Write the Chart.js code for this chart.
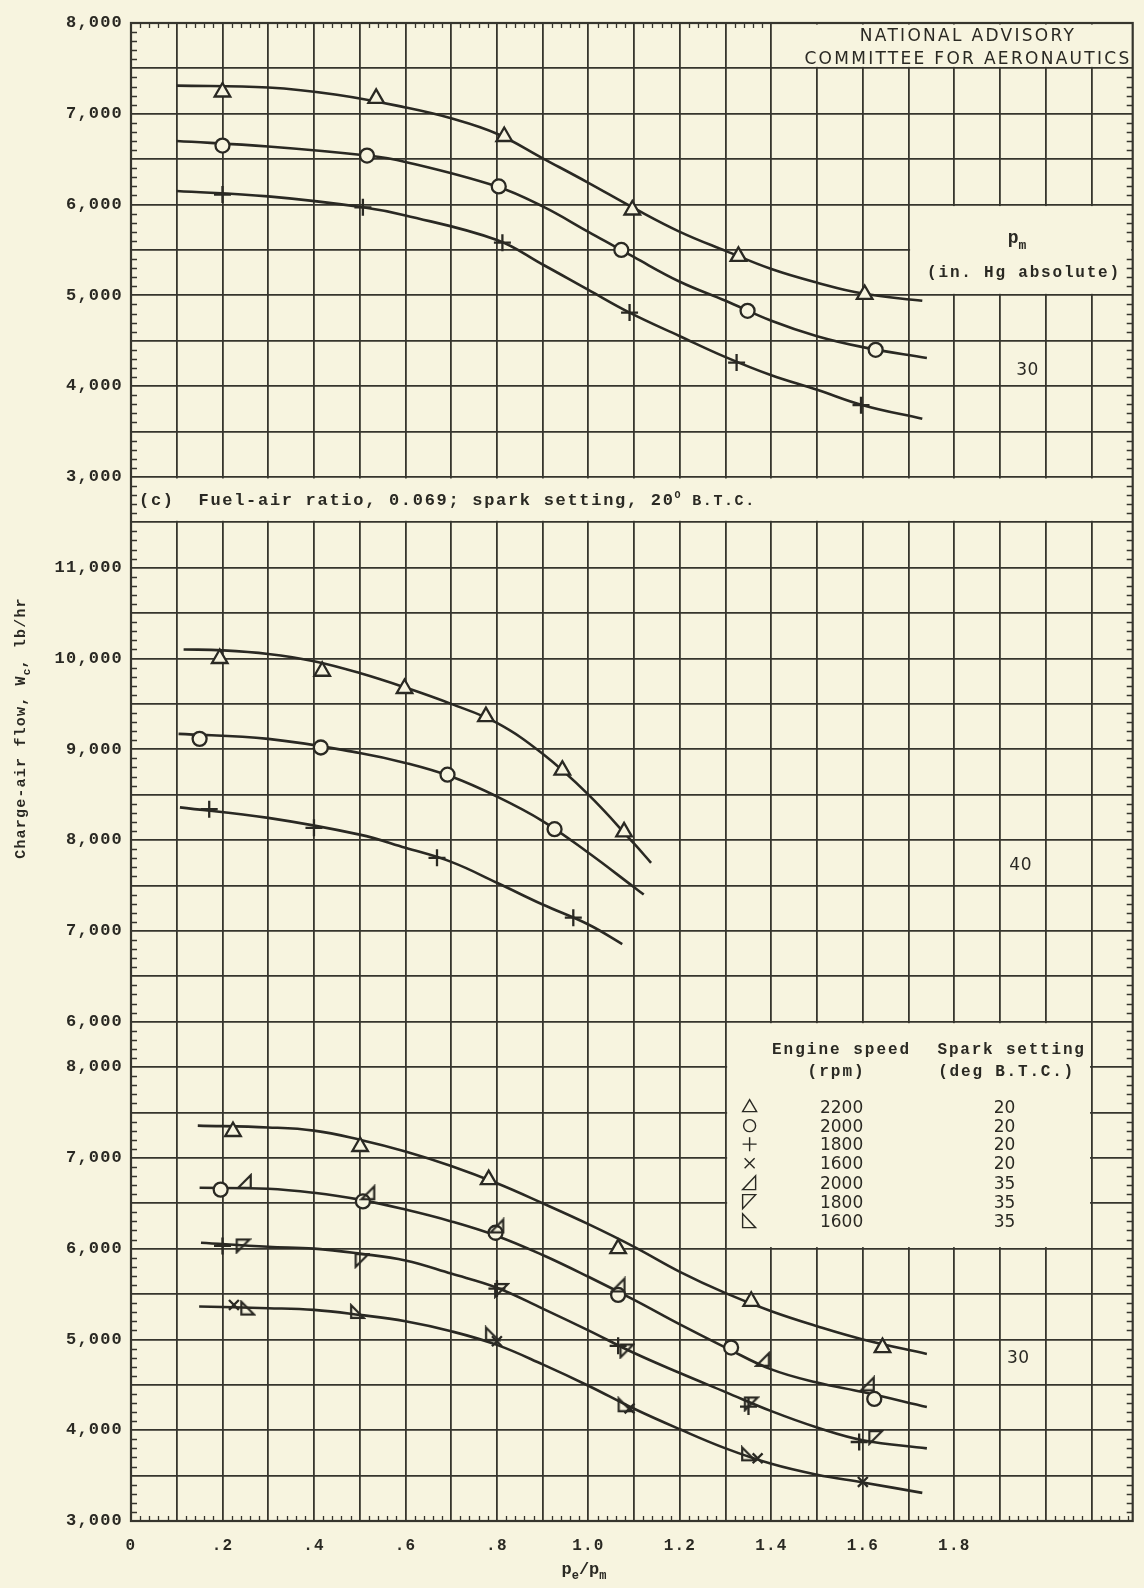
<!DOCTYPE html>
<html>
<head>
<meta charset="utf-8">
<script src="https://cdn.jsdelivr.net/npm/chart.js@4.4.0/dist/chart.umd.min.js"></script>
<style>
  html, body { margin: 0; padding: 0; background: #f7f4df; }
  canvas { display: block; }
</style>
</head>
<body>
<canvas id="chart" width="1144" height="1588"></canvas>
<script>
const INK = '#2a2923';
const GRID = '#36352d';
const PAPER = '#f7f4df';
const TYPE = '"Liberation Mono", "DejaVu Sans Mono", monospace';
const SANS = '"DejaVu Sans", "Liberation Sans", sans-serif';

// x = pe/pm, w = charge-air flow (lb/hr)
// upper block: pm 30 in. Hg, spark 20 deg
const upperX2200 = [0.2, 0.536, 0.816, 1.096, 1.328, 1.604];
const upperW2200 = [7240, 7170, 6750, 5940, 5430, 5010];
const upperX2000 = [0.2, 0.516, 0.804, 1.072, 1.348, 1.628];
const upperW2000 = [6650, 6540, 6200, 5500, 4830, 4400];
const upperX1800 = [0.2, 0.507, 0.812, 1.09, 1.324, 1.596];
const upperW1800 = [6110, 5970, 5580, 4810, 4260, 3790];
const upperFairX2200 = [0.1, 0.3, 0.45, 0.6, 0.7, 0.8, 0.9, 1.0, 1.1, 1.2, 1.3, 1.4, 1.5, 1.6, 1.73];
const upperFairW2200 = [7310, 7290, 7210, 7070, 6950, 6780, 6510, 6240, 5960, 5700, 5490, 5290, 5140, 5020, 4940];
const upperFairX2000 = [0.1, 0.3, 0.516, 0.6, 0.8, 0.9, 1.0, 1.1, 1.2, 1.3, 1.4, 1.5, 1.6, 1.74];
const upperFairW2000 = [6700, 6640, 6540, 6470, 6200, 5980, 5700, 5420, 5150, 4940, 4720, 4550, 4430, 4310];
const upperFairX1800 = [0.1, 0.3, 0.507, 0.6, 0.8, 0.9, 1.0, 1.09, 1.2, 1.3, 1.4, 1.5, 1.6, 1.73];
const upperFairW1800 = [6150, 6090, 5970, 5880, 5610, 5340, 5060, 4810, 4550, 4320, 4120, 3960, 3790, 3640];

// middle block: pm 40
const midX2200 = [0.194, 0.418, 0.598, 0.776, 0.943, 1.078];
const midW2200 = [10000, 9860, 9670, 9360, 8770, 8090];
const midX2000 = [0.15, 0.415, 0.692, 0.926];
const midW2000 = [9115, 9020, 8720, 8120];
const midX1800 = [0.171, 0.4, 0.669, 0.967];
const midW1800 = [8340, 8135, 7805, 7145];
const midFairX2200 = [0.115, 0.2, 0.3, 0.4, 0.5, 0.6, 0.7, 0.8, 0.9, 1.0, 1.1, 1.137];
const midFairW2200 = [10100, 10090, 10050, 9970, 9840, 9680, 9500, 9290, 8950, 8500, 7960, 7750];
const midFairX2000 = [0.104, 0.3, 0.5, 0.6, 0.7, 0.8, 0.9, 1.0, 1.1, 1.121];
const midFairW2000 = [9170, 9115, 8960, 8850, 8700, 8480, 8210, 7860, 7480, 7400];
const midFairX1800 = [0.107, 0.3, 0.5, 0.6, 0.7, 0.8, 0.9, 1.0, 1.074];
const midFairW1800 = [8360, 8245, 8060, 7915, 7760, 7530, 7290, 7070, 6855];

// lower block: pm 30, spark 20 and 35 deg
const lowX2200 = [0.223, 0.501, 0.782, 1.065, 1.356, 1.643];
const lowW2200 = [7290, 7125, 6760, 6000, 5420, 4910];
const lowX2000 = [0.196, 0.507, 0.797, 1.065, 1.312, 1.625];
const lowW2000 = [6650, 6520, 6175, 5490, 4910, 4345];
const lowX1800 = [0.2, 0.8, 1.065, 1.35, 1.592];
const lowW1800 = [6030, 5560, 4930, 4260, 3870];
const lowX1600 = [0.225, 0.8, 1.09, 1.37, 1.6];
const lowW1600 = [5380, 4980, 4240, 3690, 3430];
const lowX2000s35 = [0.248, 0.518, 0.8, 1.065, 1.381, 1.61];
const lowW2000s35 = [6740, 6615, 6250, 5600, 4780, 4510];
const lowX1800s35 = [0.245, 0.505, 0.81, 1.084, 1.356, 1.628];
const lowW1800s35 = [6030, 5870, 5540, 4873, 4290, 3920];
const lowX1600s35 = [0.255, 0.495, 0.79, 1.08, 1.35];
const lowW1600s35 = [5345, 5307, 5060, 4280, 3740];
const lowFairX2200 = [0.146, 0.3, 0.4, 0.5, 0.6, 0.7, 0.8, 0.9, 1.0, 1.1, 1.2, 1.3, 1.4, 1.5, 1.6, 1.74];
const lowFairW2200 = [7355, 7335, 7300, 7200, 7070, 6910, 6720, 6500, 6270, 6020, 5745, 5510, 5310, 5145, 5000, 4840];
const lowFairX2000 = [0.15, 0.3, 0.4, 0.5, 0.6, 0.7, 0.8, 0.9, 1.0, 1.1, 1.2, 1.3, 1.4, 1.5, 1.6, 1.74];
const lowFairW2000 = [6670, 6660, 6615, 6540, 6430, 6300, 6140, 5930, 5690, 5435, 5165, 4910, 4670, 4525, 4420, 4255];
const lowFairX1800 = [0.153, 0.3, 0.4, 0.5, 0.6, 0.7, 0.8, 0.9, 1.0, 1.1, 1.2, 1.3, 1.4, 1.5, 1.6, 1.74];
const lowFairW1800 = [6065, 6020, 6000, 5945, 5870, 5725, 5570, 5340, 5100, 4850, 4630, 4420, 4210, 4030, 3890, 3800];
const lowFairX1600 = [0.149, 0.3, 0.4, 0.5, 0.6, 0.7, 0.8, 0.9, 1.0, 1.1, 1.2, 1.3, 1.4, 1.5, 1.6, 1.73];
const lowFairW1600 = [5362, 5344, 5325, 5270, 5200, 5090, 4940, 4725, 4490, 4236, 4010, 3800, 3630, 3510, 3425, 3310];

// the three blocks share one grid; each is shifted on the axis (thousands of lb/hr)
const upperShift = 0;
const midShift = 9;
const lowShift = 11.5;

const legendSpeeds = ['2200', '2000', '1800', '1600', '2000', '1800', '1600'];
const legendSparks = ['20', '20', '20', '20', '35', '35', '35'];
const legendGlyphs = ['tri', 'circ', 'plus', 'x', 'br', 'tl', 'bl'];

function pts(xs, ws, shift) {
    return xs.map((x, i) => ({ x: x, y: ws[i] / 1000 - shift }));
}

// open right-triangle markers for the 35 deg runs
function rightTri(kind, size, lw) {
    const c = document.createElement('canvas');
    c.width = size; c.height = size;
    const g = c.getContext('2d');
    const a = lw, b = size - lw;
    g.strokeStyle = INK; g.lineWidth = lw; g.lineJoin = 'miter';
    g.beginPath();
    if (kind === 'br') { g.moveTo(b, a); g.lineTo(b, b); g.lineTo(a, b); }
    if (kind === 'tl') { g.moveTo(a, b); g.lineTo(a, a); g.lineTo(b, a); }
    if (kind === 'bl') { g.moveTo(a, a); g.lineTo(a, b); g.lineTo(b, b); }
    g.closePath(); g.stroke();
    return c;
}
const triBR = rightTri('br', 17, 2.2);
const triTL = rightTri('tl', 17, 2.2);
const triBL = rightTri('bl', 17, 2.2);

function markSet(xs, ws, shift, style, radius, filled, order) {
    return {
        data: pts(xs, ws, shift),
        showLine: false,
        pointStyle: style,
        pointRadius: radius,
        pointBorderWidth: 2.3,
        pointBorderColor: INK,
        pointBackgroundColor: filled ? PAPER : 'rgba(0,0,0,0)',
        order: order
    };
}

function fairSet(xs, ws, shift) {
    return {
        data: pts(xs, ws, shift),
        showLine: true,
        borderColor: INK,
        borderWidth: 2.6,
        pointRadius: 0,
        tension: 0.4,
        order: 2
    };
}

function xLabel(v) {
    const t = Math.round(v * 10);
    if (t % 2 !== 0 || t > 18) return '';
    if (t === 0) return '0';
    if (t < 10) return '.' + t;
    return (t / 10).toFixed(1);
}

function yLabel(v) {
    const h = Math.round(v * 2) / 2;
    let w = null;
    if (h >= 3 && Number.isInteger(h)) w = h + upperShift;
    else if (h <= 2 && h >= -3 && Number.isInteger(h)) w = h + midShift;
    else if (h <= -3.5 && Number.isInteger(h + 0.5)) w = h + lowShift;
    return w === null ? '' : (w * 1000).toLocaleString('en-US');
}

function runs(ctx, parts, x, y, align) {
    let total = 0;
    const widths = parts.map(p => {
        ctx.font = p[1]; ctx.letterSpacing = p[2] + 'px';
        const w = ctx.measureText(p[0]).width;
        total += w;
        return w;
    });
    let cx = align === 'center' ? x - total / 2 : (align === 'right' ? x - total : x);
    ctx.textAlign = 'left';
    ctx.textBaseline = 'alphabetic';
    ctx.fillStyle = INK;
    parts.forEach((p, i) => {
        ctx.font = p[1]; ctx.letterSpacing = p[2] + 'px';
        ctx.fillText(p[0], cx, y + (p[3] || 0));
        cx += widths[i];
    });
}

function glyph(ctx, kind, x, y) {
    ctx.save();
    ctx.strokeStyle = INK; ctx.lineWidth = 1.4;
    ctx.beginPath();
    if (kind === 'tri') { ctx.moveTo(x, y - 7); ctx.lineTo(x + 7, y + 5); ctx.lineTo(x - 7, y + 5); ctx.closePath(); }
    if (kind === 'circ') { ctx.arc(x, y, 6, 0, Math.PI * 2); }
    if (kind === 'plus') { ctx.moveTo(x - 7, y); ctx.lineTo(x + 7, y); ctx.moveTo(x, y - 7); ctx.lineTo(x, y + 7); }
    if (kind === 'x') { ctx.moveTo(x - 5, y - 5); ctx.lineTo(x + 5, y + 5); ctx.moveTo(x + 5, y - 5); ctx.lineTo(x - 5, y + 5); }
    if (kind === 'br') { ctx.moveTo(x + 6, y - 7); ctx.lineTo(x + 6, y + 7); ctx.lineTo(x - 7, y + 7); ctx.closePath(); }
    if (kind === 'tl') { ctx.moveTo(x - 7, y + 7); ctx.lineTo(x - 7, y - 7); ctx.lineTo(x + 6, y - 7); ctx.closePath(); }
    if (kind === 'bl') { ctx.moveTo(x - 7, y - 7); ctx.lineTo(x - 7, y + 7); ctx.lineTo(x + 6, y + 7); ctx.closePath(); }
    ctx.stroke();
    ctx.restore();
}

// paper, blank boxes in the grid, edge ticks and frame
const paperPlugin = {
    id: 'paper',
    beforeDraw(chart) {
        const ctx = chart.ctx;
        ctx.save();
        ctx.fillStyle = PAPER;
        ctx.fillRect(0, 0, chart.width, chart.height);
        ctx.restore();
        ctx.letterSpacing = '1.2px';
    },
    beforeDatasetsDraw(chart) {
        const ctx = chart.ctx;
        const xs = chart.scales.x, ys = chart.scales.y;
        const area = chart.chartArea;
        function blank(x0, x1, y0, y1) {
            const L = xs.getPixelForValue(x0);
            const R = x1 === null ? area.right : xs.getPixelForValue(x1);
            const T = ys.getPixelForValue(y0), B = ys.getPixelForValue(y1);
            ctx.fillRect(L + 1.5, T + 1.5, R - L - 3, B - T - 3);
        }
        ctx.save();
        ctx.fillStyle = PAPER;
        blank(1.4, null, 8, 7.5);     // NACA title
        blank(1.7, null, 6, 5);       // pm heading
        blank(0, null, 3, 2.5);       // caption band
        blank(1.3, 2.1, -3, -5.5);    // key

        ctx.strokeStyle = GRID;
        ctx.lineWidth = 1.3;
        ctx.beginPath();
        for (let k = -85; k <= 80; k++) {
            if (k % 5 === 0) continue;
            const py = Math.round(ys.getPixelForValue(k / 10)) + 0.5;
            ctx.moveTo(area.left, py); ctx.lineTo(area.left + 6, py);
            if (k < 75) { ctx.moveTo(area.right, py); ctx.lineTo(area.right - 6, py); }
        }
        for (let k = 1; k < 110; k++) {
            if (k % 5 === 0) continue;
            const px = Math.round(xs.getPixelForValue(k / 50)) + 0.5;
            if (px >= area.right - 2) break;
            if (k < 70) { ctx.moveTo(px, area.top); ctx.lineTo(px, area.top + 5); }
            ctx.moveTo(px, area.bottom); ctx.lineTo(px, area.bottom - 5);
        }
        ctx.stroke();
        ctx.lineWidth = 2.2;
        ctx.strokeRect(area.left, area.top, area.right - area.left, area.bottom - area.top);
        ctx.restore();
    },
    afterDraw(chart) {
        const ctx = chart.ctx;
        const xs = chart.scales.x, ys = chart.scales.y;
        ctx.save();
        const tw = 'bold 16px ' + TYPE;

        runs(ctx, [['NATIONAL ADVISORY', '17px ' + SANS, 2.3]], 968, 41, 'center');
        runs(ctx, [['COMMITTEE FOR AERONAUTICS', '17px ' + SANS, 2.3]], 968, 64, 'center');

        runs(ctx, [['p', 'bold 18px ' + TYPE, 0], ['m', 'bold 13px ' + TYPE, 0, 6]], 1017, 243, 'center');
        runs(ctx, [['(in. Hg absolute)', tw, 1.8]], 1024, 277, 'center');

        runs(ctx, [['30', '17px ' + SANS, 0.5]], xs.getPixelForValue(1.96), ys.getPixelForValue(4.19) + 6, 'center');
        runs(ctx, [['40', '17px ' + SANS, 0.5]], xs.getPixelForValue(1.945), ys.getPixelForValue(7.74 - midShift) + 6, 'center');
        runs(ctx, [['30', '17px ' + SANS, 0.5]], xs.getPixelForValue(1.94), ys.getPixelForValue(4.81 - lowShift) + 6, 'center');

        runs(ctx, [
            ['(c)  Fuel-air ratio, 0.069; spark setting, 20', 'bold 17px ' + TYPE, 1.7],
            ['O', 'bold 10px ' + TYPE, 1, -7],
            [' B.T.C.', 'bold 15px ' + TYPE, 1.6]
        ], xs.getPixelForValue(0) + 8, ys.getPixelForValue(2.75) + 5, 'left');

        // key
        const bx = xs.getPixelForValue(1.3), by = ys.getPixelForValue(-3);
        runs(ctx, [['Engine speed', tw, 2]], bx + 116, by + 32, 'center');
        runs(ctx, [['(rpm)', tw, 2]], bx + 111, by + 54, 'center');
        runs(ctx, [['Spark setting', tw, 1.8]], bx + 286, by + 32, 'center');
        runs(ctx, [['(deg B.T.C.)', tw, 1.8]], bx + 281, by + 54, 'center');
        const rowY = [85, 104, 122.5, 141.5, 161, 180, 199];
        legendSpeeds.forEach((s, i) => {
            glyph(ctx, legendGlyphs[i], bx + 24, by + rowY[i]);
            runs(ctx, [[s, '17px ' + SANS, 0]], bx + 116, by + rowY[i] + 6, 'center');
            runs(ctx, [[legendSparks[i], '17px ' + SANS, 0]], bx + 279, by + rowY[i] + 6, 'center');
        });

        // axis titles
        runs(ctx, [['p', 'bold 17px ' + TYPE, 0], ['e', 'bold 12px ' + TYPE, 0, 5],
                   ['/p', 'bold 17px ' + TYPE, 0], ['m', 'bold 12px ' + TYPE, 0, 5]], 584, 1574, 'center');
        ctx.translate(20, 728);
        ctx.rotate(-Math.PI / 2);
        runs(ctx, [['Charge-air flow, W', 'bold 15px ' + TYPE, 1.2], ['c', 'bold 11px ' + TYPE, 0, 5],
                   [', lb/hr', 'bold 15px ' + TYPE, 1.2]], 0, 5, 'center');
        ctx.restore();
    }
};

const datasets = [
    markSet(upperX2200, upperW2200, upperShift, 'triangle', 9, true, 1),
    markSet(upperX2000, upperW2000, upperShift, 'circle', 7, true, 1),
    markSet(upperX1800, upperW1800, upperShift, 'cross', 8.5, false, 0),
    fairSet(upperFairX2200, upperFairW2200, upperShift),
    fairSet(upperFairX2000, upperFairW2000, upperShift),
    fairSet(upperFairX1800, upperFairW1800, upperShift),

    markSet(midX2200, midW2200, midShift, 'triangle', 9, true, 1),
    markSet(midX2000, midW2000, midShift, 'circle', 7, true, 1),
    markSet(midX1800, midW1800, midShift, 'cross', 8.5, false, 0),
    fairSet(midFairX2200, midFairW2200, midShift),
    fairSet(midFairX2000, midFairW2000, midShift),
    fairSet(midFairX1800, midFairW1800, midShift),

    markSet(lowX2200, lowW2200, lowShift, 'triangle', 9, true, 1),
    markSet(lowX2000, lowW2000, lowShift, 'circle', 7, true, 1),
    markSet(lowX1800, lowW1800, lowShift, 'cross', 8.5, false, 0),
    markSet(lowX1600, lowW1600, lowShift, 'crossRot', 7, false, 0),
    markSet(lowX2000s35, lowW2000s35, lowShift, triBR, 8, false, 0),
    markSet(lowX1800s35, lowW1800s35, lowShift, triTL, 8, false, 0),
    markSet(lowX1600s35, lowW1600s35, lowShift, triBL, 8, false, 0),
    fairSet(lowFairX2200, lowFairW2200, lowShift),
    fairSet(lowFairX2000, lowFairW2000, lowShift),
    fairSet(lowFairX1800, lowFairW1800, lowShift),
    fairSet(lowFairX1600, lowFairW1600, lowShift)
];

const ctx = document.getElementById('chart').getContext('2d');
const myChart = new Chart(ctx, {
    type: 'scatter',
    data: { datasets: datasets },
    options: {
        responsive: false,
        animation: false,
        devicePixelRatio: 1,
        events: [],
        layout: { padding: { top: 23, right: 5, left: 0, bottom: 0 } },
        plugins: { legend: { display: false }, tooltip: { enabled: false } },
        scales: {
            x: {
                type: 'linear',
                min: 0,
                max: 2.19,
                afterFit: s => { s.height = 67; },
                border: { display: false },
                grid: { color: GRID, lineWidth: 1.8, drawTicks: false },
                ticks: {
                    stepSize: 0.1,
                    includeBounds: false,
                    autoSkip: false,
                    maxRotation: 0,
                    padding: 15,
                    color: INK,
                    font: { family: TYPE, size: 16, weight: 'bold' },
                    callback: v => xLabel(v)
                }
            },
            y: {
                type: 'linear',
                min: -8.5,
                max: 8,
                afterFit: s => { s.width = 131; },
                border: { display: false },
                grid: { color: GRID, lineWidth: 1.8, drawTicks: false },
                ticks: {
                    stepSize: 0.5,
                    autoSkip: false,
                    padding: 8,
                    color: INK,
                    font: { family: TYPE, size: 17, weight: 'bold' },
                    callback: v => yLabel(v)
                }
            }
        }
    },
    plugins: [paperPlugin]
});
</script>
</body>
</html>
